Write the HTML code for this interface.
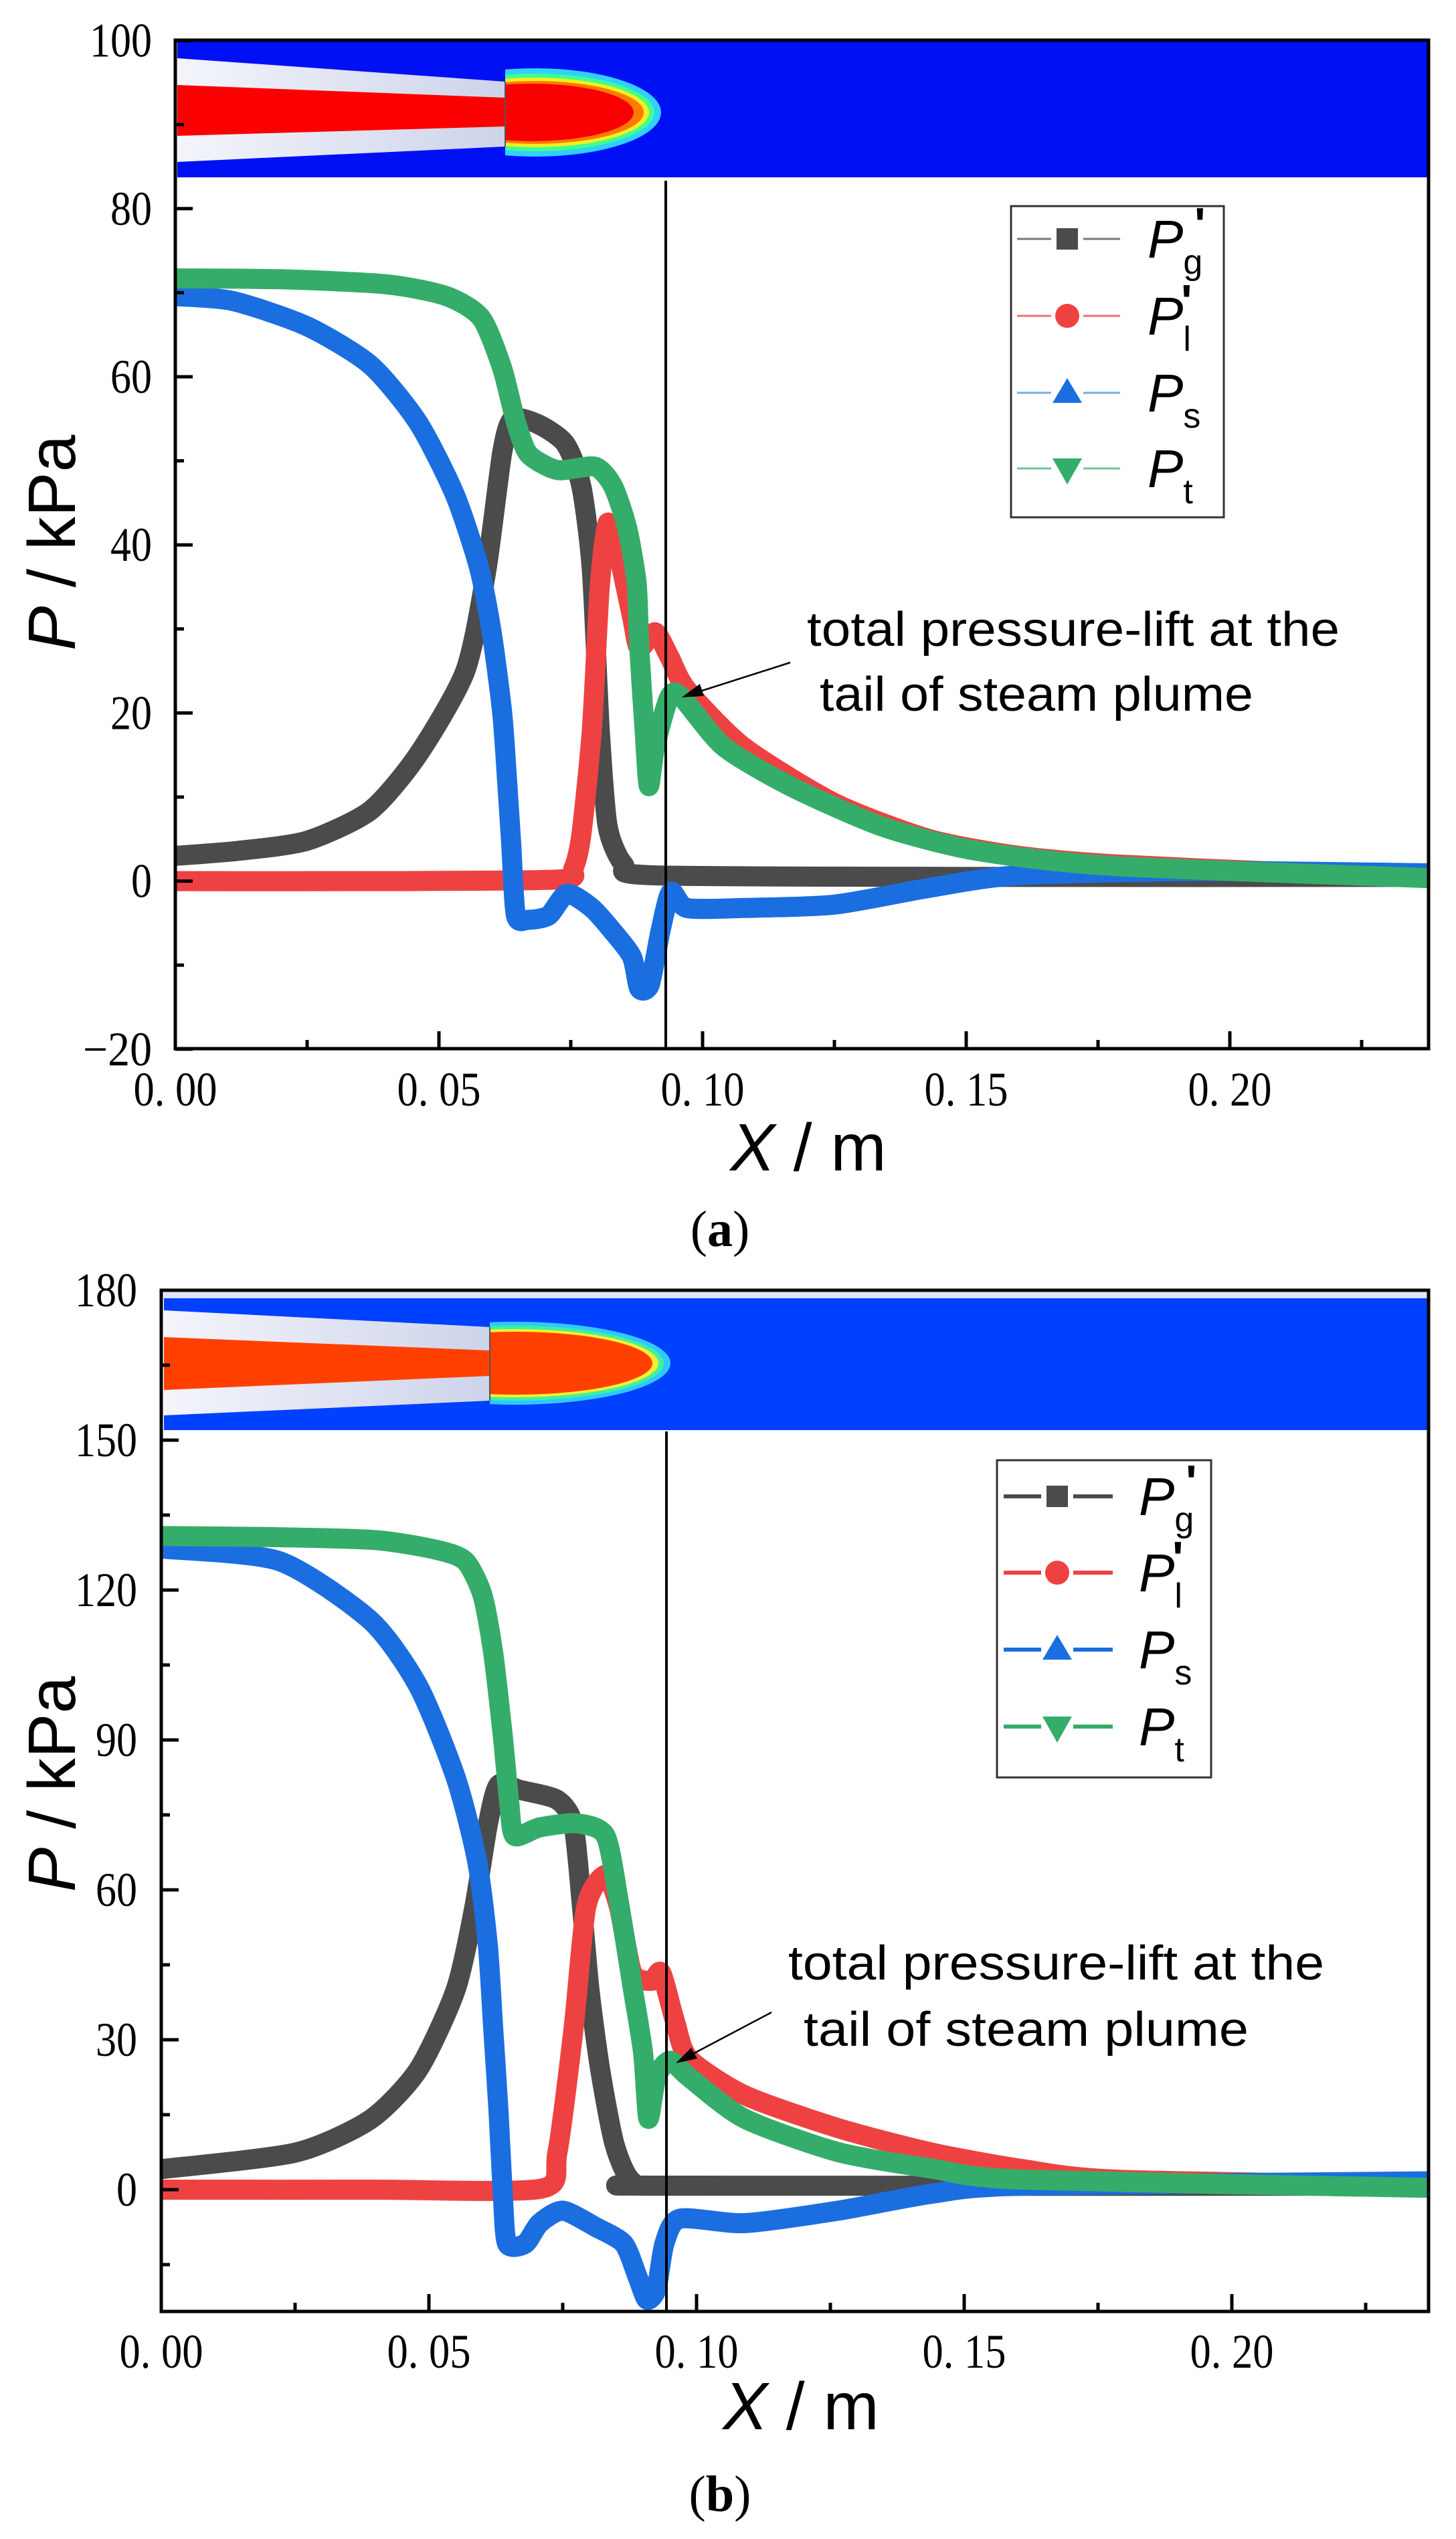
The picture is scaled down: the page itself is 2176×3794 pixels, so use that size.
<!DOCTYPE html>
<html><head><meta charset="utf-8"><style>
html,body{margin:0;padding:0;background:#fff}
svg{display:block}
</style></head><body>
<svg id="s" width="2176" height="3794" viewBox="0 0 2176 3794" xmlns="http://www.w3.org/2000/svg">
<defs>
<clipPath id="ca"><rect x="262" y="60" width="1873" height="1507"/></clipPath>
<clipPath id="cb"><rect x="241" y="1928" width="1894" height="1526"/></clipPath>
<clipPath id="pa"><rect x="755" y="62" width="400" height="203"/></clipPath>
<clipPath id="pb"><rect x="732" y="1930" width="400" height="207"/></clipPath>
<linearGradient id="nz" x1="0" y1="0" x2="1" y2="0"><stop offset="0" stop-color="#f4f5fb"/><stop offset="1" stop-color="#cdd3ea"/></linearGradient>
</defs>
<rect width="2176" height="3794" fill="#fff"/>

<!-- ===== Panel A contour ===== -->
<rect x="265" y="62" width="1868" height="203" fill="#0010f4"/>
<polygon points="265,87 755,122 755,219 265,242" fill="url(#nz)"/>
<polygon points="265,127 755,146 755,189 265,203" fill="#fa0000"/>
<g clip-path="url(#pa)">
<ellipse cx="800" cy="168" rx="188" ry="66" fill="#30d0ff"/>
<ellipse cx="800" cy="168" rx="178" ry="58" fill="#40ff90"/>
<ellipse cx="800" cy="168" rx="170" ry="52" fill="#f0f020"/>
<ellipse cx="800" cy="168" rx="162" ry="47" fill="#ff7a00"/>
<ellipse cx="795" cy="168" rx="152" ry="43" fill="#f80000"/>
</g>
<line x1="755" y1="122" x2="755" y2="219" stroke="#555" stroke-width="2"/>

<!-- ===== Panel B contour ===== -->
<rect x="245" y="1930" width="1890" height="207" fill="#0040ff"/>
<rect x="245" y="1930" width="1890" height="10" fill="#dfe4f7"/>
<polygon points="245,1958 732,1983 732,2093 245,2115" fill="url(#nz)"/>
<polygon points="245,1998 732,2018 732,2056 245,2077" fill="#ff4000"/>
<g clip-path="url(#pb)">
<ellipse cx="770" cy="2037" rx="232" ry="62" fill="#30c8ff"/>
<ellipse cx="770" cy="2037" rx="222" ry="56" fill="#40f0a0"/>
<ellipse cx="770" cy="2037" rx="214" ry="51" fill="#f0f030"/>
<ellipse cx="770" cy="2037" rx="205" ry="47" fill="#ff4000"/>
</g>
<line x1="732" y1="1983" x2="732" y2="2093" stroke="#555" stroke-width="2"/>

<g id="curvesA" clip-path="url(#ca)" fill="none" stroke-linejoin="round" stroke-linecap="round"></g>
<g id="curvesB" clip-path="url(#cb)" fill="none" stroke-linejoin="round" stroke-linecap="round"></g>

<line x1="995" y1="270" x2="995" y2="1567" stroke="#000" stroke-width="4"/>
<line x1="996" y1="2139" x2="996" y2="3454" stroke="#000" stroke-width="4"/>

<g stroke="#000" stroke-width="5" fill="none">
<rect x="262" y="60" width="1873" height="1507"/>
<rect x="241" y="1928" width="1894" height="1526"/>
</g>
<g id="ticks" stroke="#000" stroke-width="5"></g>
<g id="labels" font-family="Liberation Serif, serif" font-size="72" fill="#000"></g>

<g font-family="Liberation Sans, Arial, sans-serif" font-size="100" fill="#000">
<text transform="translate(112,811) rotate(-90)" text-anchor="middle"><tspan font-style="italic">P</tspan> / kPa</text>
<text x="1208" y="1749" text-anchor="middle"><tspan font-style="italic">X</tspan> / m</text>
<text transform="translate(112,2666) rotate(-90)" text-anchor="middle"><tspan font-style="italic">P</tspan> / kPa</text>
<text x="1197" y="3630" text-anchor="middle"><tspan font-style="italic">X</tspan> / m</text>
</g>
<g font-family="Liberation Serif, serif" font-size="76" fill="#000" text-anchor="middle">
<text x="1076" y="1862">(<tspan font-weight="bold">a</tspan>)</text>
<text x="1076" y="3752">(<tspan font-weight="bold">b</tspan>)</text>
</g>

<g font-family="Liberation Sans, Arial, sans-serif" font-size="72" fill="#000">
<text x="1206" y="965" textLength="796" lengthAdjust="spacingAndGlyphs">total pressure-lift at the</text>
<text x="1225" y="1062" textLength="648" lengthAdjust="spacingAndGlyphs">tail of steam plume</text>
<text x="1178" y="2958" textLength="801" lengthAdjust="spacingAndGlyphs">total pressure-lift at the</text>
<text x="1201" y="3057" textLength="665" lengthAdjust="spacingAndGlyphs">tail of steam plume</text>
</g>
<g stroke="#000" stroke-width="2.5">
<line x1="1181" y1="990" x2="1040" y2="1035"/>
<line x1="1153" y1="3007" x2="1030" y2="3072"/>
</g>
<polygon points="1019,1042 1046,1022 1052,1040" fill="#000"/>
<polygon points="1010,3083 1033,3060 1042,3076" fill="#000"/>

<g id="legA">
<rect x="1511" y="308" width="318" height="465" fill="#fff" stroke="#333" stroke-width="3"/>
</g>
<g id="legB">
<rect x="1490" y="2182" width="320" height="474" fill="#fff" stroke="#333" stroke-width="3"/>
</g>
</svg>
<script>
const NS="http://www.w3.org/2000/svg";
function el(t,a,p){const e=document.createElementNS(NS,t);for(const k in a)e.setAttribute(k,a[k]);if(p)p.appendChild(e);return e;}
const COL={g:"#4b4b4b",r:"#ee4242",b:"#1b6ee0",t:"#35ad6a"};
function path(pts,X,Y){
  const P=pts.map(p=>[X(p[0]),Y(p[1])]);
  let d="M"+P[0][0]+","+P[0][1];
  for(let i=0;i<P.length-1;i++){
    const p0=P[Math.max(i-1,0)],p1=P[i],p2=P[i+1],p3=P[Math.min(i+2,P.length-1)];
    const t=0.12;
    const c1=[p1[0]+(p2[0]-p0[0])*t,p1[1]+(p2[1]-p0[1])*t];
    const c2=[p2[0]-(p3[0]-p1[0])*t,p2[1]-(p3[1]-p1[1])*t];
    d+=" C"+c1.join(",")+" "+c2.join(",")+" "+p2.join(",");
  }
  return d;
}
const XA=x=>262+x/0.05*394, YA=p=>1316.6-p*12.56;
const XB=x=>241+x/0.05*400, YB=p=>3272-p*7.467;
const A={
g:[[0,3],[0.012,3.6],[0.025,4.8],[0.037,8.4],[0.046,15],[0.055,25],[0.059,37],[0.062,51],[0.064,55],[0.069,54.3],[0.074,52],[0.077,47],[0.079,37],[0.0805,18],[0.082,6.5],[0.085,2],[0.09,0.7],[0.15,0.5],[0.24,0.5]],
r:[[0,0],[0.04,0],[0.073,0.2],[0.0755,1.5],[0.077,5.5],[0.079,18],[0.0805,35],[0.082,42.6],[0.084,39],[0.0866,31.5],[0.088,27.7],[0.091,29.6],[0.0937,26.7],[0.097,22.8],[0.1077,16],[0.125,9.3],[0.143,5],[0.16,3],[0.178,2],[0.2134,1],[0.24,0.6]],
b:[[0,69.6],[0.011,69],[0.025,66],[0.037,61.4],[0.046,54.6],[0.053,46],[0.0576,37.3],[0.06,29.6],[0.062,20],[0.0629,12.2],[0.0637,4.5],[0.0646,-4.1],[0.067,-4.6],[0.0708,-4.1],[0.0743,-1.5],[0.079,-3.2],[0.083,-6],[0.0866,-9],[0.088,-12.8],[0.09,-12.3],[0.092,-6],[0.094,-1.3],[0.097,-3.2],[0.1077,-3.2],[0.125,-2.8],[0.143,-0.8],[0.16,0.7],[0.196,1.2],[0.24,0.9]],
t:[[0,71.7],[0.02,71.6],[0.04,71],[0.0514,69.6],[0.058,67],[0.062,61],[0.0646,54.6],[0.067,50.8],[0.0725,48.9],[0.0796,49.3],[0.083,47],[0.0857,42],[0.0875,35.4],[0.088,27.7],[0.089,18],[0.0898,11.3],[0.091,16],[0.0937,21.9],[0.096,21.9],[0.104,16],[0.1166,11.3],[0.134,6.5],[0.152,3.6],[0.178,1.8],[0.24,0.3]]
};
const B={
g:[[0,4.1],[0.025,7.4],[0.039,14],[0.048,24],[0.055,40],[0.0585,56.6],[0.061,73],[0.063,81],[0.067,80],[0.074,78],[0.077,73],[0.0786,56.6],[0.080,40],[0.082,24],[0.0847,9],[0.088,1.6],[0.095,0.8],[0.24,0.8]],
r:[[0,0],[0.04,0],[0.071,0.2],[0.074,7.4],[0.077,32],[0.0794,56.6],[0.083,63],[0.0855,56.6],[0.088,43.4],[0.0916,41.8],[0.0934,43.4],[0.096,33.6],[0.0986,26.2],[0.109,18.9],[0.1265,12.3],[0.144,7.4],[0.161,4.1],[0.1787,2],[0.24,0.8]],
b:[[0,128.3],[0.022,125.8],[0.039,114],[0.048,100.8],[0.055,82.5],[0.059,65.8],[0.061,49],[0.062,32.5],[0.063,15.8],[0.0638,-0.8],[0.0646,-10.8],[0.068,-10.8],[0.0707,-6.7],[0.075,-4.2],[0.0812,-7.5],[0.0864,-10.8],[0.089,-17.5],[0.0907,-22],[0.0925,-20],[0.094,-10.8],[0.0969,-5.8],[0.109,-6.7],[0.1265,-4.2],[0.144,-0.8],[0.161,0.8],[0.24,1.7]],
t:[[0,130.8],[0.02,130.6],[0.04,130],[0.0516,128],[0.0568,125.8],[0.06,119],[0.062,107.5],[0.0638,90.8],[0.065,77.5],[0.066,70.8],[0.0707,72.5],[0.0777,73.3],[0.083,70.8],[0.0855,57.5],[0.088,40.8],[0.09,27.5],[0.091,14.2],[0.0925,22.5],[0.095,25.8],[0.0986,22.5],[0.109,14.2],[0.1265,7.5],[0.144,4.2],[0.161,2],[0.24,0.3]]
};
const gA=document.getElementById("curvesA"),gB=document.getElementById("curvesB");
["g","r","b","t"].forEach(k=>{
  el("path",{d:path(A[k],XA,YA),stroke:COL[k],"stroke-width":30},gA);
  el("path",{d:path(B[k],XB,YB),stroke:COL[k],"stroke-width":30},gB);
});
const tk=document.getElementById("ticks"),lb=document.getElementById("labels");
function line(x1,y1,x2,y2){el("line",{x1,y1,x2,y2},tk);}
function txt(x,y,s,anchor,len){const t=el("text",{x,y,"text-anchor":anchor},lb);if(len){t.setAttribute("textLength",len);t.setAttribute("lengthAdjust","spacingAndGlyphs");}t.textContent=s;}
for(let v=-20;v<=100;v+=10){const y=YA(v);const maj=v%20===0;line(262,y,262+(maj?26:13),y);
  if(maj){const s=v<0?"\u221220":String(v);txt(227,y+24,s,"end",s.length*31+(v<0?10:0));}}
for(let i=0;i<=9;i++){const v=i*0.025;const x=XA(v);if(x>2136)break;const maj=i%2===0;line(x,1567,x,1567-(maj?26:13));
  if(maj)txt(x,1652,(v).toFixed(2).replace(".",". "),"middle",125);}
for(let v=-15;v<=180;v+=15){const y=YB(v);const maj=v%30===0;line(241,y,241+(maj?26:13),y);
  if(maj){const s=String(v);txt(205,y+24,s,"end",s.length*31);}}
for(let i=0;i<=9;i++){const v=i*0.025;const x=XB(v);if(x>2136)break;const maj=i%2===0;line(x,3454,x,3454-(maj?26:13));
  if(maj)txt(x,3538,(v).toFixed(2).replace(".",". "),"middle",125);}
function legend(g,rows,lx1,lx2,mx,tx,sw,lc){
  const subs=["g","l","s","t"],keys=["g","r","b","t"],primes=[true,true,false,false];
  rows.forEach((y,i)=>{
    const c=COL[keys[i]];
    el("line",{x1:lx1,y1:y,x2:mx-24,y2:y,stroke:lc[i],"stroke-width":sw},g);
    el("line",{x1:mx+24,y1:y,x2:lx2,y2:y,stroke:lc[i],"stroke-width":sw},g);
    if(i===0)el("rect",{x:mx-16,y:y-16,width:32,height:32,fill:c},g);
    if(i===1)el("circle",{cx:mx,cy:y,r:18,fill:c},g);
    if(i===2)el("polygon",{points:`${mx},${y-22} ${mx+22},${y+15} ${mx-22},${y+15}`,fill:c},g);
    if(i===3)el("polygon",{points:`${mx-22},${y-15} ${mx+22},${y-15} ${mx},${y+24}`,fill:c},g);
    const t=el("text",{x:tx,y:y+28,"font-family":"Liberation Sans, Arial, sans-serif","font-size":80,fill:"#000"},g);
    const p=el("tspan",{"font-style":"italic"},t);p.textContent="P";
    const s=el("tspan",{"font-size":52,dy:24},t);s.textContent=subs[i];
    if(primes[i]){const q=el("text",{x:tx+(i===0?70:50),y:y+2,"font-family":"Liberation Sans, Arial, sans-serif","font-size":70,"font-weight":"bold",fill:"#000"},g);q.textContent="'";}
  });
}
legend(document.getElementById("legA"),[357,472,587,700],1520,1674,1595,1715,3,["#777","#f07070","#7aa8ee","#70c49a"]);
legend(document.getElementById("legB"),[2236,2350,2465,2580],1500,1663,1580,1702,6,[COL.g,COL.r,COL.b,COL.t]);
</script>
</body></html>
